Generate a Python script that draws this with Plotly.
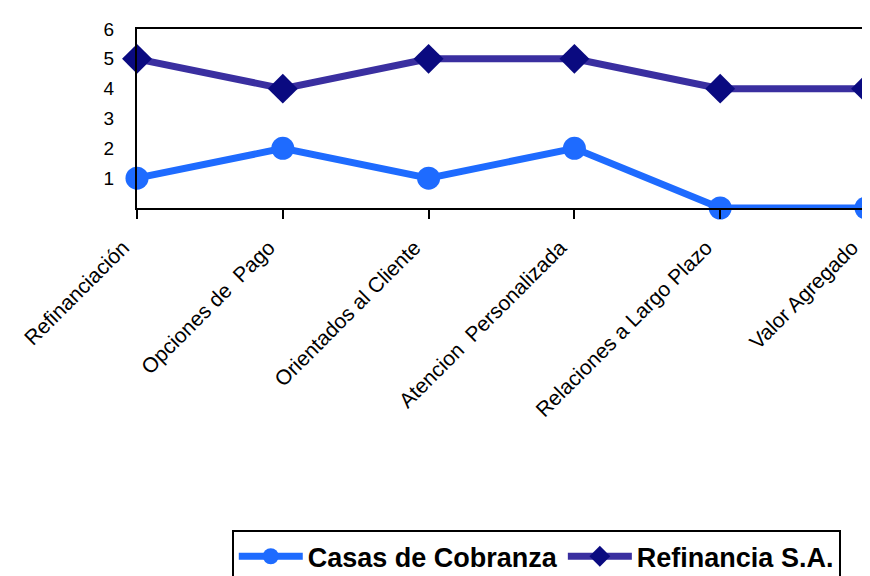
import plotly.graph_objects as go

categories = ["Refinanciación", "Opciones de  Pago", "Orientados al Cliente",
              "Atencion  Personalizada", "Relaciones a Largo Plazo", "Valor Agregado"]
casas = [1, 2, 1, 2, 0, 0]
refinancia = [5, 4, 5, 5, 4, 4]
y_ticks = [1, 2, 3, 4, 5, 6]

fig = go.Figure()
fig.add_trace(go.Scatter(
    x=categories, y=casas, name="Casas de Cobranza", mode="lines+markers",
    line=dict(color="#1E6BFF", width=7),
    marker=dict(symbol="circle", size=23, color="#1E6BFF"),
    cliponaxis=False))
fig.add_trace(go.Scatter(
    x=categories, y=refinancia, name="Refinancia S.A.", mode="lines+markers",
    line=dict(color="#3A2FA0", width=7),
    marker=dict(symbol="diamond", size=23, color="#0A0A80"),
    cliponaxis=False))

fig.update_layout(
    width=862, height=568,
    margin=dict(l=129, r=4, t=21, b=368, autoexpand=False),
    paper_bgcolor="white", plot_bgcolor="white",
    font=dict(family="Liberation Sans, Arial, sans-serif", color="black"),
    showlegend=True,
    legend=dict(
        orientation="h", x=0.13, xanchor="left", y=-1.80, yanchor="top",
        bordercolor="black", borderwidth=2, bgcolor="white",
        itemwidth=64,
        font=dict(family="Liberation Sans, Arial, sans-serif", size=27,
                  color="black", weight="bold"),
    ),
    xaxis=dict(
        type="category", range=[0, 5], tickangle=-45, automargin=False,
        showline=True, linecolor="black", linewidth=2, mirror=True,
        ticks="outside", ticklen=9, tickcolor="black", tickwidth=2,
        showgrid=False, zeroline=False,
        ticklabelstandoff=8, ticklabelshift=-14,
        tickfont=dict(size=21, family="Liberation Sans, Arial, sans-serif"),
    ),
    yaxis=dict(
        range=[0, 6], tickvals=y_ticks, automargin=False,
        showline=True, linecolor="black", linewidth=2, mirror=True,
        ticks="", showgrid=False, zeroline=False,
        ticklabelstandoff=17,
        tickfont=dict(size=19, family="Liberation Sans, Arial, sans-serif"),
    ),
)

fig.write_html("out.html")
